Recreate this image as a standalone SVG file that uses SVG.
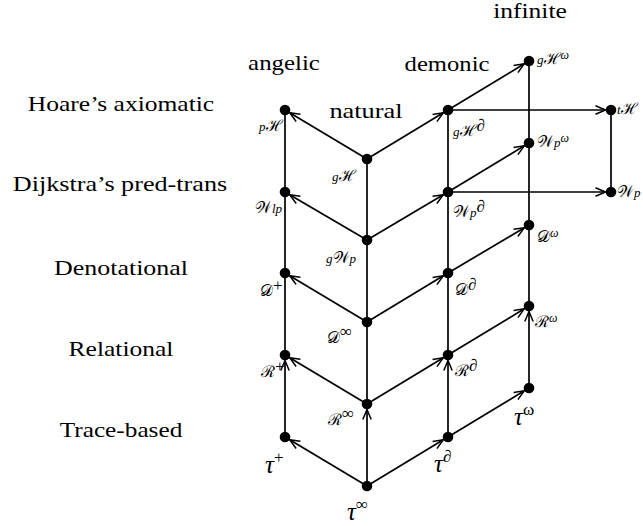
<svg xmlns="http://www.w3.org/2000/svg" width="643" height="526" viewBox="0 0 643 526">
<style>
.edge{stroke:#000;stroke-width:1.7;fill:none}
.arr{marker-end:url(#ah)}
.dot{fill:#000}
.lbl{font-family:'Liberation Serif',serif;font-size:22px;text-anchor:middle;fill:#000}
.m{font-family:'Liberation Serif',serif;font-style:italic;font-size:13px;fill:#000}
.cal{font-size:16px;font-style:normal}
.t{font-family:'Liberation Serif',serif;font-style:italic;font-size:25px;fill:#000}
.sup{font-size:12px}
.tsup{font-size:17px;font-style:normal}
</style>
<defs>
<marker id="ah" markerUnits="userSpaceOnUse" markerWidth="14" markerHeight="12" refX="0" refY="0" viewBox="-12 -6 14 12" orient="auto">
<path d="M-10,-4.2 L0,0 L-10,4.2" stroke="#000" stroke-width="1.5" fill="none"/>
</marker>
</defs>
<rect width="643" height="526" fill="#fff"/>

<g id="row-labels">
<text class="lbl" transform="translate(121,111) scale(1.16,1)">Hoare’s axiomatic</text>
<text class="lbl" transform="translate(120,191) scale(1.19,1)">Dijkstra’s pred-trans</text>
<text class="lbl" transform="translate(121,275) scale(1.18,1)">Denotational</text>
<text class="lbl" transform="translate(121,356) scale(1.16,1)">Relational</text>
<text class="lbl" transform="translate(121,437) scale(1.15,1)">Trace-based</text>
</g>
<g id="column-labels">
<text class="lbl" transform="translate(284,70) scale(1.13,1)">angelic</text>
<text class="lbl" transform="translate(447,71) scale(1.12,1)">demonic</text>
<text class="lbl" transform="translate(366,118) scale(1.2,1)">natural</text>
<text class="lbl" transform="translate(530,18) scale(1.16,1)">infinite</text>
</g>

<g id="connectors">
<path class="edge" d="M285,110 L285,355"/>
<path class="edge arr" d="M285,437 L285,360.5"/>
<path class="edge" d="M367,159 L367,404"/>
<path class="edge arr" d="M367,486 L367,409.5"/>
<path class="edge" d="M448,110 L448,355"/>
<path class="edge arr" d="M448,437 L448,360.5"/>
<path class="edge" d="M529,61 L529,306"/>
<path class="edge arr" d="M529,388 L529,311.5"/>
<path class="edge" d="M611,110 L611,192"/>
<path class="edge arr" d="M367,159 L289.7,112.8"/>
<path class="edge arr" d="M367,159 L443.3,112.8"/>
<path class="edge arr" d="M367,240 L289.7,194.8"/>
<path class="edge arr" d="M367,240 L443.3,194.8"/>
<path class="edge arr" d="M367,322 L289.7,275.8"/>
<path class="edge arr" d="M367,322 L443.3,275.8"/>
<path class="edge arr" d="M367,404 L289.7,357.8"/>
<path class="edge arr" d="M367,404 L443.3,357.8"/>
<path class="edge arr" d="M367,486 L289.7,439.8"/>
<path class="edge arr" d="M367,486 L443.3,439.8"/>
<path class="edge arr" d="M448,110 L524.3,63.8"/>
<path class="edge arr" d="M448,192 L524.3,145.8"/>
<path class="edge arr" d="M448,273 L524.3,227.8"/>
<path class="edge arr" d="M448,355 L524.3,308.8"/>
<path class="edge arr" d="M448,437 L524.3,390.8"/>
<path class="edge arr" d="M448,110 L605.5,110"/>
<path class="edge arr" d="M448,192 L605.5,192"/>
</g>

<g id="nodes">
<g id="pH"><circle class="dot" cx="285" cy="110" r="5.3"/><text class="m" x="259" y="131">p<tspan class="cal">ℋ</tspan></text></g>
<g id="Wlp"><circle class="dot" cx="285" cy="192" r="5.3"/><text class="m" x="255" y="213"><tspan class="cal">𝒲</tspan>lp</text></g>
<g id="Dplus"><circle class="dot" cx="285" cy="273" r="5.3"/><text class="m" x="260" y="296"><tspan class="cal">𝒟</tspan><tspan class="tsup" dy="-5">+</tspan></text></g>
<g id="Rplus"><circle class="dot" cx="285" cy="355" r="5.3"/><text class="m" x="261" y="377"><tspan class="cal">ℛ</tspan><tspan class="tsup" dy="-5">+</tspan></text></g>
<g id="tauplus"><circle class="dot" cx="285" cy="437" r="5.3"/><text class="t" x="265" y="473">τ<tspan class="tsup" dy="-10">+</tspan></text></g>

<g id="gH"><circle class="dot" cx="367" cy="159" r="5.3"/><text class="m" x="332" y="181">g<tspan class="cal">ℋ</tspan></text></g>
<g id="gWp"><circle class="dot" cx="367" cy="240" r="5.3"/><text class="m" x="326" y="263">g<tspan class="cal">𝒲</tspan>p</text></g>
<g id="Dinf"><circle class="dot" cx="367" cy="322" r="5.3"/><text class="m" x="327" y="343"><tspan class="cal">𝒟</tspan><tspan class="tsup" dy="-6">∞</tspan></text></g>
<g id="Rinf"><circle class="dot" cx="367" cy="404" r="5.3"/><text class="m" x="328" y="425"><tspan class="cal">ℛ</tspan><tspan class="tsup" dy="-6">∞</tspan></text></g>
<g id="tauinf"><circle class="dot" cx="367" cy="486" r="5.3"/><text class="t" x="347" y="520">τ<tspan class="tsup" dy="-10">∞</tspan></text></g>

<g id="gHd"><circle class="dot" cx="448" cy="110" r="5.3"/><text class="m" x="453" y="136">g<tspan class="cal">ℋ</tspan><tspan class="tsup" dy="-5">∂</tspan></text></g>
<g id="Wpd"><circle class="dot" cx="448" cy="192" r="5.3"/><text class="m" x="453" y="217"><tspan class="cal">𝒲</tspan>p<tspan class="tsup" dy="-5">∂</tspan></text></g>
<g id="Dd"><circle class="dot" cx="448" cy="273" r="5.3"/><text class="m" x="455" y="295"><tspan class="cal">𝒟</tspan><tspan class="tsup" dy="-5">∂</tspan></text></g>
<g id="Rd"><circle class="dot" cx="448" cy="355" r="5.3"/><text class="m" x="455" y="376"><tspan class="cal">ℛ</tspan><tspan class="tsup" dy="-5">∂</tspan></text></g>
<g id="taud"><circle class="dot" cx="448" cy="437" r="5.3"/><text class="t" x="434" y="472">τ<tspan class="tsup" dy="-10">∂</tspan></text></g>

<g id="gHw"><circle class="dot" cx="529" cy="61" r="5.3"/><text class="m" x="537" y="64">g<tspan class="cal">ℋ</tspan><tspan class="sup" dy="-5">ω</tspan></text></g>
<g id="Wpw"><circle class="dot" cx="529" cy="143" r="5.3"/><text class="m" x="537" y="147"><tspan class="cal">𝒲</tspan>p<tspan class="sup" dy="-5">ω</tspan></text></g>
<g id="Dw"><circle class="dot" cx="529" cy="225" r="5.3"/><text class="m" x="537" y="242"><tspan class="cal">𝒟</tspan><tspan class="sup" dy="-5">ω</tspan></text></g>
<g id="Rw"><circle class="dot" cx="529" cy="306" r="5.3"/><text class="m" x="535" y="327"><tspan class="cal">ℛ</tspan><tspan class="sup" dy="-5">ω</tspan></text></g>
<g id="tauw"><circle class="dot" cx="529" cy="388" r="5.3"/><text class="t" x="514" y="425">τ<tspan class="tsup" dy="-10">ω</tspan></text></g>

<g id="tH"><circle class="dot" cx="611" cy="110" r="5.3"/><text class="m" x="617" y="114">t<tspan class="cal">ℋ</tspan></text></g>
<g id="Wp"><circle class="dot" cx="611" cy="192" r="5.3"/><text class="m" x="617" y="197"><tspan class="cal">𝒲</tspan>p</text></g>
</g>
</svg>
